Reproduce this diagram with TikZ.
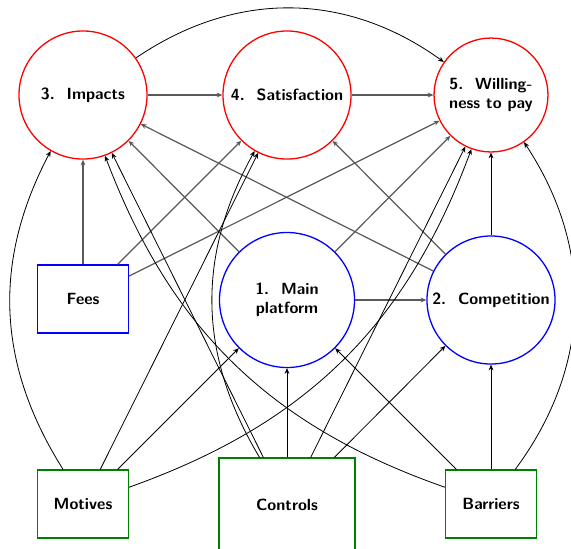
\documentclass[tikz,border=0pt]{standalone}
\usetikzlibrary{arrows.meta}
\begin{document}
\begin{tikzpicture}[x=0.617pt, y=-0.617pt,
  every node/.style={font=\sffamily\bfseries, align=center},
  outcome/.style={circle, draw=red, line width=0.8pt, inner sep=0pt, minimum size=79pt},
  factor/.style={circle, draw=blue, line width=0.8pt, inner sep=0pt, minimum size=79pt},
  costbox/.style={rectangle, draw=blue, line width=0.8pt, minimum width=56.1pt, minimum height=42pt},
  driver/.style={rectangle, draw=green!50!black, line width=0.7pt, minimum width=56.1pt, minimum height=42pt},
  link/.style={draw=black!65, line width=0.75pt, -{Stealth[length=3.5pt,width=3pt]}},
  drive/.style={draw=black, line width=0.5pt, -{Stealth[length=3.5pt,width=3pt]}}
]
\useasboundingbox (0,0) rectangle (571,548);

% outcomes (top row)
\node[outcome] (imp) at (83,95) {3.~~Impacts};
\node[outcome] (sat) at (287,95) {4.~~Satisfaction};
\node[outcome, minimum size=70.3pt] (wtp) at (491,95) {5.~~Willing-\\ness to pay};

% market factors (middle row)
\node[costbox] (fees) at (83,299) {Fees};
\node[factor, minimum size=83.3pt] (main) at (287,300) {1.~~Main\\platform};
\node[factor] (comp) at (491,300) {2.~~Competition};

% drivers (bottom row); the controls box runs past the lower edge
\node[driver] (mot) at (83,504) {Motives};
\node[driver, minimum width=83.9pt, minimum height=58pt] (ctrl) at (287,505) {Controls};
\node[driver] (bar) at (491,504) {Barriers};

% links among outcomes and market factors
\draw[link] (imp) -- (sat);
\draw[link] (sat) -- (wtp);
\draw[link] (main) -- (comp);
\draw[link] (fees) -- (imp);
\draw[link] (fees) -- (sat);
\draw[link] (fees) -- (wtp);
\draw[link] (main) -- (imp);
\draw[link] (main) -- (wtp);
\draw[link] (comp) -- (imp);
\draw[link] (comp) -- (sat);
\draw[drive] (comp) -- (wtp);
\draw[drive] (imp) to[bend left=35] (wtp);

% links from the drivers
\draw[drive] (mot) to[bend left=30] (imp);
\draw[drive] (mot) -- (sat);
\draw[drive] (mot) -- (main);
\draw[drive] (mot) to[bend right=25] (wtp);
\draw[drive] (ctrl) -- (imp);
\draw[drive] (ctrl) to[bend left=30] (sat);
\draw[drive] (ctrl) -- (main);
\draw[drive] (ctrl) -- (comp);
\draw[drive] (ctrl) -- (wtp);
\draw[drive] (bar) to[bend left=25] (imp);
\draw[drive] (bar) -- (main);
\draw[drive] (bar) -- (comp);
\draw[drive] (bar) to[bend right=35] (wtp);
\end{tikzpicture}
\end{document}
